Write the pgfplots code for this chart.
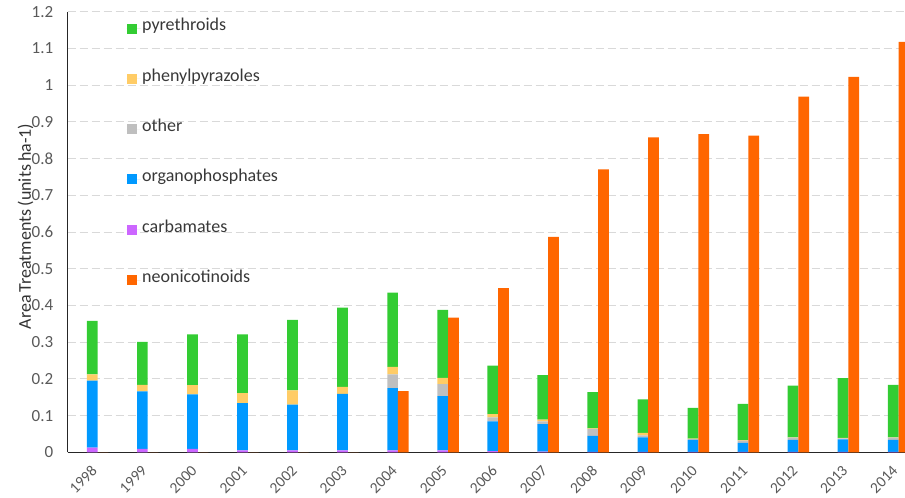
\documentclass[border=0pt]{standalone}
\usepackage{pgfplots}
\pgfplotsset{compat=1.18}
\usepackage{pgfplotstable}
\usepackage{fontspec}
\setmainfont{Carlito}

\definecolor{pyr}{HTML}{33CC33}
\definecolor{phen}{HTML}{FFCC66}
\definecolor{oth}{HTML}{BFBFBF}
\definecolor{org}{HTML}{0099FF}
\definecolor{carb}{HTML}{CC66FF}
\definecolor{neo}{HTML}{FF6600}
\definecolor{txt}{HTML}{595959}
\definecolor{grd}{HTML}{D9D9D9}

% Area treatments per class (units ha-1); stacked classes are increments
\pgfplotstableread{
year carb  org   oth   phen  pyr   neo
1998 0.013 0.182 0.000 0.017 0.146 0.000
1999 0.009 0.157 0.000 0.018 0.117 0.000
2000 0.009 0.149 0.000 0.025 0.138 0.000
2001 0.005 0.129 0.000 0.027 0.160 0.000
2002 0.005 0.125 0.000 0.039 0.192 0.000
2003 0.005 0.154 0.000 0.019 0.216 0.000
2004 0.005 0.170 0.037 0.021 0.202 0.167
2005 0.005 0.148 0.033 0.017 0.185 0.367
2006 0.003 0.081 0.011 0.009 0.132 0.447
2007 0.002 0.075 0.007 0.005 0.121 0.587
2008 0.001 0.044 0.019 0.001 0.099 0.771
2009 0.001 0.040 0.005 0.007 0.091 0.858
2010 0.001 0.033 0.002 0.001 0.084 0.867
2011 0.001 0.025 0.006 0.001 0.099 0.863
2012 0.001 0.033 0.006 0.001 0.141 0.969
2013 0.001 0.034 0.003 0.001 0.163 1.023
2014 0.001 0.033 0.006 0.001 0.143 1.118
}\data

\pgfplotsset{
  base/.style={
    scale only axis,
    width=837.3pt, height=440.4pt,
    xmin=1997.401, xmax=2014.13,
    ymin=0, ymax=1.2,
    enlargelimits=false,
    bar width=0.214,
  },
}

\begin{document}
\begin{tikzpicture}
\useasboundingbox (-67.7pt,-45.7pt) rectangle (837.3pt,452.3pt);

\begin{axis}[
  base,
  ybar stacked,
  bar shift=-0.107,
  axis x line*=bottom,
  axis y line*=left,
  axis line style={line width=1.3pt, black!85},
  major tick length=0pt,
  ymajorgrids,
  grid style={grd, line width=1pt, dash pattern=on 8pt off 4pt},
  xtick={1998,...,2014},
  ytick={0,0.1,0.2,0.3,0.4,0.5,0.6,0.7,0.8,0.9,1,1.1,1.2},
  /pgf/number format/assume math mode=true,
  x tick label style={/pgf/number format/1000 sep={}, xshift=-1pt, yshift=-13.5pt,
    rotate=45, anchor=east, font=\fontsize{15.5}{15.5}\selectfont, text=txt},
  y tick label style={/pgf/number format/fixed, font=\fontsize{17}{17}\selectfont,
    text=txt, xshift=-11pt},
  ylabel={Area\,Treatments\,(units\,ha-1)},
  y label style={at={(axis description cs:-0.0504,0.5127)}, anchor=center,
    font=\fontsize{18}{18}\selectfont, text=black!80},
  legend image code/.code={\fill[#1] (0pt,-5pt) rectangle (10.5pt,5pt);
    \path (0pt,0pt) -- (14pt,0pt);},
  reverse legend,
  legend cell align=left,
  legend style={draw=none, fill=none, inner sep=0pt,
    at={(axis description cs:0.0702,0.977)}, anchor=north west,
    font=\fontsize{18}{18}\selectfont, text=black!78,
    row sep=37.6pt,
    nodes={inner sep=1.5pt, text height=0.72em, text depth=0.25em}},
]
\addlegendimage{fill=neo, draw=none}
\addlegendentry{neonicotinoids}
\addplot[fill=carb, draw=none] table[x=year, y=carb] {\data};
\addlegendentry{carbamates}
\addplot[fill=org, draw=none] table[x=year, y=org] {\data};
\addlegendentry{organophosphates}
\addplot[fill=oth, draw=none] table[x=year, y=oth] {\data};
\addlegendentry{other}
\addplot[fill=phen, draw=none] table[x=year, y=phen] {\data};
\addlegendentry{phenylpyrazoles}
\addplot[fill=pyr, draw=none] table[x=year, y=pyr] {\data};
\addlegendentry{pyrethroids}
\end{axis}

\begin{axis}[
  base,
  ybar,
  bar shift=0.107,
  hide axis,
]
\addplot[fill=neo, draw=none] table[x=year, y=neo] {\data};
\end{axis}
\end{tikzpicture}
\end{document}
